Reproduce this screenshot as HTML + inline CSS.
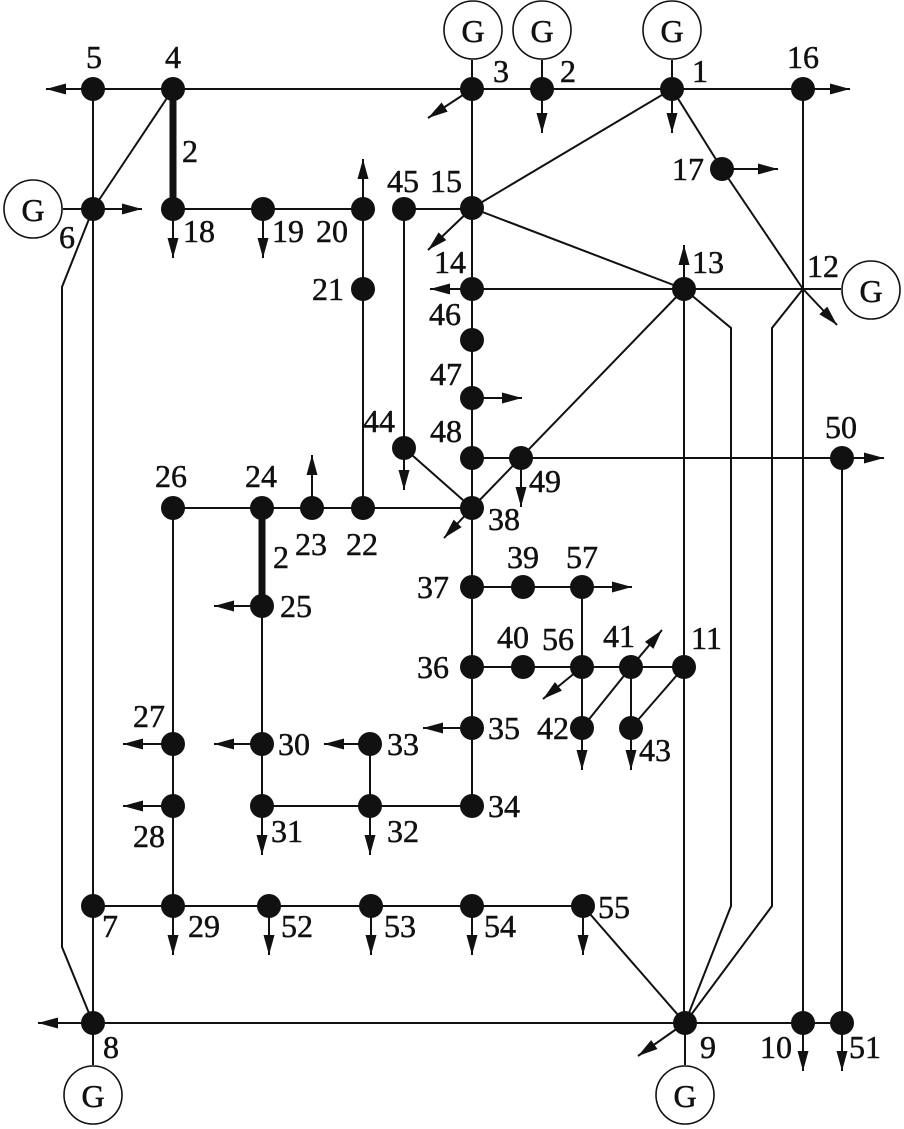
<!DOCTYPE html>
<html><head><meta charset="utf-8"><style>
html,body{margin:0;padding:0;background:#fff;}
svg{display:block;}
text{font-family:"Liberation Serif",serif;font-size:32px;fill:#111;stroke:#111;stroke-width:0.5px;}
</style></head><body>
<svg width="904" height="1129" viewBox="0 0 904 1129" xmlns="http://www.w3.org/2000/svg">
<defs>
<marker id="a" viewBox="0 0 20 12" refX="20" refY="6" markerWidth="20" markerHeight="12" markerUnits="userSpaceOnUse" orient="auto">
<path d="M0,0.5 L20,6 L0,11.5 Z" fill="#111"/>
</marker>
</defs>
<g stroke="#111" stroke-width="2" fill="none">
<line x1="93" y1="89" x2="803" y2="89"/>
<line x1="173" y1="89" x2="93" y2="209"/>
<line x1="93" y1="89" x2="93" y2="1023"/>
<polyline points="93,209 62,287 62,947 93,1023"/>
<line x1="63" y1="209" x2="93" y2="209"/>
<line x1="173" y1="209" x2="363" y2="209"/>
<line x1="363" y1="209" x2="363" y2="508"/>
<line x1="404" y1="209" x2="472" y2="209"/>
<line x1="404" y1="209" x2="404" y2="448"/>
<line x1="404" y1="448" x2="472" y2="508"/>
<line x1="472" y1="60" x2="472" y2="806"/>
<line x1="672" y1="89" x2="472" y2="208"/>
<line x1="472" y1="208" x2="684" y2="289"/>
<line x1="472" y1="289" x2="841" y2="289"/>
<polyline points="672,89 722,169 803,289"/>
<line x1="803" y1="89" x2="803" y2="1023"/>
<line x1="684" y1="289" x2="684" y2="1023"/>
<polyline points="684,289 731,328 731,906 685,1023"/>
<polyline points="803,289 772,328 772,906 685,1023"/>
<line x1="684" y1="289" x2="472" y2="508"/>
<line x1="472" y1="458" x2="842" y2="458"/>
<line x1="842" y1="458" x2="842" y2="1023"/>
<line x1="173" y1="508" x2="472" y2="508"/>
<line x1="262" y1="606" x2="262" y2="806"/>
<line x1="173" y1="508" x2="173" y2="906"/>
<line x1="262" y1="806" x2="472" y2="806"/>
<line x1="370" y1="744" x2="370" y2="806"/>
<line x1="472" y1="587" x2="582" y2="587"/>
<line x1="582" y1="587" x2="582" y2="728"/>
<line x1="472" y1="667" x2="684" y2="667"/>
<line x1="631" y1="667" x2="582" y2="728"/>
<line x1="631" y1="667" x2="631" y2="728"/>
<line x1="684" y1="667" x2="631" y2="728"/>
<line x1="93" y1="906" x2="583" y2="906"/>
<line x1="583" y1="906" x2="685" y2="1023"/>
<line x1="93" y1="1023" x2="842" y2="1023"/>
<line x1="542" y1="60" x2="542" y2="89"/>
<line x1="672" y1="60" x2="672" y2="89"/>
<line x1="93" y1="1023" x2="93" y2="1065"/>
<line x1="685" y1="1023" x2="685" y2="1065"/>
</g>
<g stroke="#111" stroke-width="7">
<line x1="173" y1="89" x2="173" y2="209"/>
<line x1="262" y1="508" x2="262" y2="606"/>
</g>
<g stroke="#111" stroke-width="2" marker-end="url(#a)">
<line x1="93" y1="89" x2="46" y2="89"/>
<line x1="93" y1="209" x2="142" y2="209"/>
<line x1="472" y1="89" x2="428" y2="118"/>
<line x1="542" y1="89" x2="542" y2="133"/>
<line x1="672" y1="89" x2="672" y2="133"/>
<line x1="803" y1="89" x2="850" y2="89"/>
<line x1="722" y1="169" x2="778" y2="169"/>
<line x1="803" y1="289" x2="837" y2="325"/>
<line x1="173" y1="209" x2="173" y2="258"/>
<line x1="263" y1="209" x2="263" y2="258"/>
<line x1="363" y1="209" x2="363" y2="159"/>
<line x1="472" y1="208" x2="428" y2="250"/>
<line x1="472" y1="289" x2="430" y2="289"/>
<line x1="684" y1="289" x2="684" y2="245"/>
<line x1="472" y1="398" x2="522" y2="398"/>
<line x1="404" y1="448" x2="404" y2="490"/>
<line x1="521" y1="458" x2="521" y2="507"/>
<line x1="842" y1="458" x2="884" y2="458"/>
<line x1="472" y1="508" x2="444" y2="538"/>
<line x1="312" y1="508" x2="312" y2="455"/>
<line x1="262" y1="606" x2="214" y2="606"/>
<line x1="582" y1="587" x2="632" y2="587"/>
<line x1="631" y1="667" x2="662" y2="630"/>
<line x1="582" y1="667" x2="543" y2="699"/>
<line x1="582" y1="728" x2="582" y2="770"/>
<line x1="631" y1="728" x2="631" y2="770"/>
<line x1="472" y1="728" x2="423" y2="728"/>
<line x1="173" y1="744" x2="123" y2="744"/>
<line x1="262" y1="744" x2="214" y2="744"/>
<line x1="370" y1="744" x2="324" y2="744"/>
<line x1="173" y1="806" x2="123" y2="806"/>
<line x1="262" y1="806" x2="262" y2="855"/>
<line x1="370" y1="806" x2="370" y2="855"/>
<line x1="173" y1="906" x2="173" y2="955"/>
<line x1="269" y1="906" x2="269" y2="955"/>
<line x1="371" y1="906" x2="371" y2="955"/>
<line x1="472" y1="906" x2="472" y2="955"/>
<line x1="583" y1="906" x2="583" y2="955"/>
<line x1="93" y1="1023" x2="38" y2="1023"/>
<line x1="685" y1="1023" x2="638" y2="1056"/>
<line x1="803" y1="1023" x2="803" y2="1071"/>
<line x1="842" y1="1023" x2="842" y2="1071"/>
</g>
<g stroke="#111" stroke-width="1.6" fill="#fff">
<circle cx="473" cy="30" r="29"/>
<circle cx="542" cy="30" r="29"/>
<circle cx="672" cy="30" r="29"/>
<circle cx="33" cy="209" r="29"/>
<circle cx="871" cy="290" r="29"/>
<circle cx="93" cy="1095" r="29"/>
<circle cx="685" cy="1095" r="29"/>
</g>
<g text-anchor="middle" style="font-size:34px">
<text x="473" y="42">G</text>
<text x="542" y="42">G</text>
<text x="672" y="42">G</text>
<text x="33" y="221">G</text>
<text x="871" y="302">G</text>
<text x="93" y="1107">G</text>
<text x="685" y="1107">G</text>
</g>
<g fill="#111">
<circle cx="672" cy="89" r="12"/><circle cx="542" cy="89" r="12"/><circle cx="472" cy="89" r="12"/>
<circle cx="173" cy="89" r="12"/><circle cx="93" cy="89" r="12"/><circle cx="93" cy="209" r="12"/>
<circle cx="93" cy="906" r="12"/><circle cx="93" cy="1023" r="12"/><circle cx="685" cy="1023" r="12"/>
<circle cx="803" cy="1023" r="12"/><circle cx="684" cy="667" r="12"/><circle cx="684" cy="289" r="12"/>
<circle cx="472" cy="289" r="12"/><circle cx="472" cy="208" r="12"/><circle cx="803" cy="89" r="12"/>
<circle cx="722" cy="169" r="12"/><circle cx="173" cy="209" r="12"/><circle cx="263" cy="209" r="12"/>
<circle cx="363" cy="209" r="12"/><circle cx="363" cy="289" r="12"/><circle cx="363" cy="508" r="12"/>
<circle cx="312" cy="508" r="12"/><circle cx="262" cy="508" r="12"/><circle cx="262" cy="606" r="12"/>
<circle cx="173" cy="508" r="12"/><circle cx="173" cy="744" r="12"/><circle cx="173" cy="806" r="12"/>
<circle cx="173" cy="906" r="12"/><circle cx="262" cy="744" r="12"/><circle cx="262" cy="806" r="12"/>
<circle cx="370" cy="806" r="12"/><circle cx="370" cy="744" r="12"/><circle cx="472" cy="806" r="12"/>
<circle cx="472" cy="728" r="12"/><circle cx="472" cy="667" r="12"/><circle cx="472" cy="587" r="12"/>
<circle cx="472" cy="508" r="12"/><circle cx="523" cy="587" r="12"/><circle cx="523" cy="667" r="12"/>
<circle cx="631" cy="667" r="12"/><circle cx="582" cy="728" r="12"/><circle cx="631" cy="728" r="12"/>
<circle cx="404" cy="448" r="12"/><circle cx="404" cy="209" r="12"/><circle cx="472" cy="340" r="12"/>
<circle cx="472" cy="398" r="12"/><circle cx="472" cy="458" r="12"/><circle cx="521" cy="458" r="12"/>
<circle cx="842" cy="458" r="12"/><circle cx="842" cy="1023" r="12"/><circle cx="269" cy="906" r="12"/>
<circle cx="371" cy="906" r="12"/><circle cx="472" cy="906" r="12"/><circle cx="583" cy="906" r="12"/>
<circle cx="582" cy="667" r="12"/><circle cx="582" cy="587" r="12"/>
</g>
<g>
<text x="86" y="68">5</text>
<text x="165" y="68">4</text>
<text x="493" y="82">3</text>
<text x="560" y="82">2</text>
<text x="692" y="82">1</text>
<text x="787" y="68">16</text>
<text x="182" y="162">2</text>
<text x="672" y="180">17</text>
<text x="387" y="192">45</text>
<text x="430" y="192">15</text>
<text x="59" y="248">6</text>
<text x="183" y="242">18</text>
<text x="272" y="242">19</text>
<text x="316" y="242">20</text>
<text x="434" y="273">14</text>
<text x="692" y="273">13</text>
<text x="807" y="277">12</text>
<text x="312" y="300">21</text>
<text x="429" y="325">46</text>
<text x="430" y="385">47</text>
<text x="363" y="432">44</text>
<text x="430" y="442">48</text>
<text x="825" y="438">50</text>
<text x="155" y="487">26</text>
<text x="245" y="487">24</text>
<text x="529" y="492">49</text>
<text x="488" y="530">38</text>
<text x="295" y="555">23</text>
<text x="346" y="555">22</text>
<text x="273" y="568">2</text>
<text x="507" y="568">39</text>
<text x="566" y="568">57</text>
<text x="417" y="598">37</text>
<text x="280" y="617">25</text>
<text x="603" y="647">41</text>
<text x="497" y="648">40</text>
<text x="542" y="650">56</text>
<text x="691" y="649">11</text>
<text x="417" y="678">36</text>
<text x="133" y="727">27</text>
<text x="488" y="739">35</text>
<text x="537" y="739">42</text>
<text x="278" y="755">30</text>
<text x="387" y="755">33</text>
<text x="639" y="761">43</text>
<text x="488" y="817">34</text>
<text x="271" y="842">31</text>
<text x="387" y="842">32</text>
<text x="133" y="847">28</text>
<text x="598" y="918">55</text>
<text x="102" y="937">7</text>
<text x="188" y="937">29</text>
<text x="281" y="937">52</text>
<text x="384" y="937">53</text>
<text x="484" y="937">54</text>
<text x="103" y="1058">8</text>
<text x="700" y="1058">9</text>
<text x="792" y="1058" text-anchor="end">10</text>
<text x="849" y="1058">51</text>
</g>
</svg>
</body></html>
